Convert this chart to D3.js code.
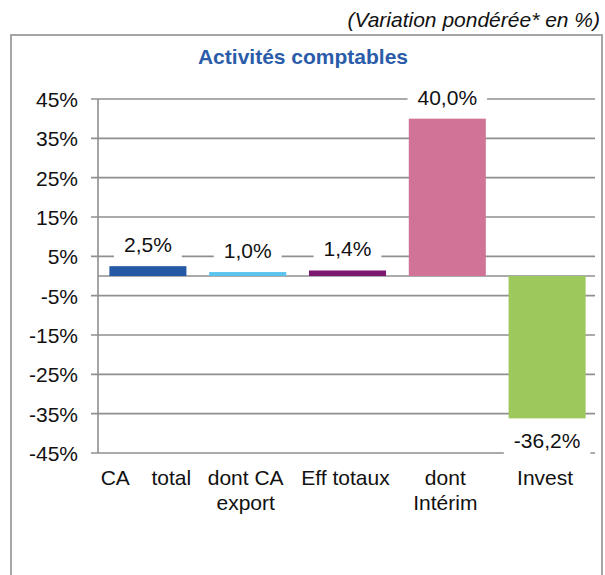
<!DOCTYPE html>
<html><head><meta charset="utf-8">
<script src="https://cdnjs.cloudflare.com/ajax/libs/d3/7.8.5/d3.min.js"></script>
<style>body{margin:0;background:#fff}svg{display:block}text{font-family:"Liberation Sans",Arial,sans-serif}</style>
</head><body><svg id="c" width="605" height="575"></svg>
<script>
const categories = ["CA total", "dont CA export", "Eff totaux", "dont Intérim", "Invest"];
const categoryLines = [["CA total"], ["dont CA", "export"], ["Eff totaux"], ["dont", "Intérim"], ["Invest"]];
const values = [2.5, 1.0, 1.4, 40.0, -36.2];
const valueLabels = ["2,5%", "1,0%", "1,4%", "40,0%", "-36,2%"];
const colors = ["#2459a6", "#5bc3ee", "#7c1771", "#d07397", "#9dc85c"];
const yTicks = [45, 35, 25, 15, 5, -5, -15, -25, -35, -45];
const title = "Activités comptables";
const note = "(Variation pondérée* en %)";

(function () {
const svg = d3.select("#c");
const fs = 21;
const pLeft = 98, pRight = 597, pTop = 99, pBottom = 453;

// outer frame
svg.append("path").attr("d", "M11,580 V35 H602 V580").attr("fill", "none").attr("stroke", "#a6a6a6").attr("stroke-width", 2);

svg.append("text").attr("x", 600).attr("y", 27).attr("text-anchor", "end")
  .attr("font-style", "italic").attr("font-size", fs).attr("fill", "#111").text(note);
svg.append("text").attr("x", 303).attr("y", 64).attr("text-anchor", "middle")
  .attr("font-weight", "bold").attr("font-size", fs).attr("fill", "#2a5ca9").text(title);

const y = d3.scaleLinear().domain([-45, 45]).range([pBottom, pTop]);
const x = d3.scaleBand().domain(categories).range([pLeft, pRight]).paddingInner(0.228).paddingOuter(0.114);

// grid lines
svg.append("g").selectAll("line").data(yTicks).join("line")
  .attr("x1", pLeft - 7).attr("x2", 595)
  .attr("y1", d => y(d)).attr("y2", d => y(d))
  .attr("stroke", "#8f8f8f").attr("stroke-width", 1.6);

// y axis
const yAxis = d3.axisLeft(y).tickValues(yTicks).tickSize(0).tickPadding(20).tickFormat(d => d + "%");
const ga = svg.append("g").attr("transform", `translate(${pLeft},0)`).call(yAxis);
ga.select(".domain").remove();
ga.selectAll("text").attr("font-size", fs).attr("fill", "#111").attr("font-family", '"Liberation Sans",Arial,sans-serif').attr("dy", "0.35em");
svg.append("line").attr("x1", pLeft).attr("x2", pLeft).attr("y1", pTop).attr("y2", pBottom)
  .attr("stroke", "#8f8f8f").attr("stroke-width", 1.6);
// zero line
svg.append("line").attr("x1", pLeft).attr("x2", 595).attr("y1", y(0)).attr("y2", y(0))
  .attr("stroke", "#8f8f8f").attr("stroke-width", 1.6);

// bars
svg.append("g").selectAll("rect").data(values).join("rect")
  .attr("x", (d, i) => x(categories[i])).attr("width", x.bandwidth())
  .attr("y", d => y(Math.max(0, d))).attr("height", d => Math.abs(y(d) - y(0)))
  .attr("fill", (d, i) => colors[i]);

// value labels with white background
const lab = svg.append("g");
values.forEach((v, i) => {
  const cx = x(categories[i]) + x.bandwidth() / 2;
  const base = v >= 0 ? y(v) - 14 : y(v) + 30;
  const t = lab.append("text").attr("x", cx).attr("y", base).attr("text-anchor", "middle")
    .attr("font-size", fs).attr("fill", "#111").text(valueLabels[i]);
  const w = t.node().getComputedTextLength() + 20;
  lab.insert("rect", () => t.node()).attr("x", cx - w / 2).attr("y", base - 20).attr("width", w).attr("height", 26).attr("fill", "#fff");
});

// category labels
const cg = svg.append("g");
categoryLines.forEach((lines, i) => {
  const cx = x(categories[i]) + x.bandwidth() / 2 - 2;
  const t = cg.append("text").attr("text-anchor", "middle").attr("font-size", fs).attr("fill", "#111");
  if (i === 0) t.attr("word-spacing", "17px");
  lines.forEach((ln, j) => t.append("tspan").attr("x", cx).attr("y", 485 + j * 25).text(ln));
});
})();
</script></body></html>
